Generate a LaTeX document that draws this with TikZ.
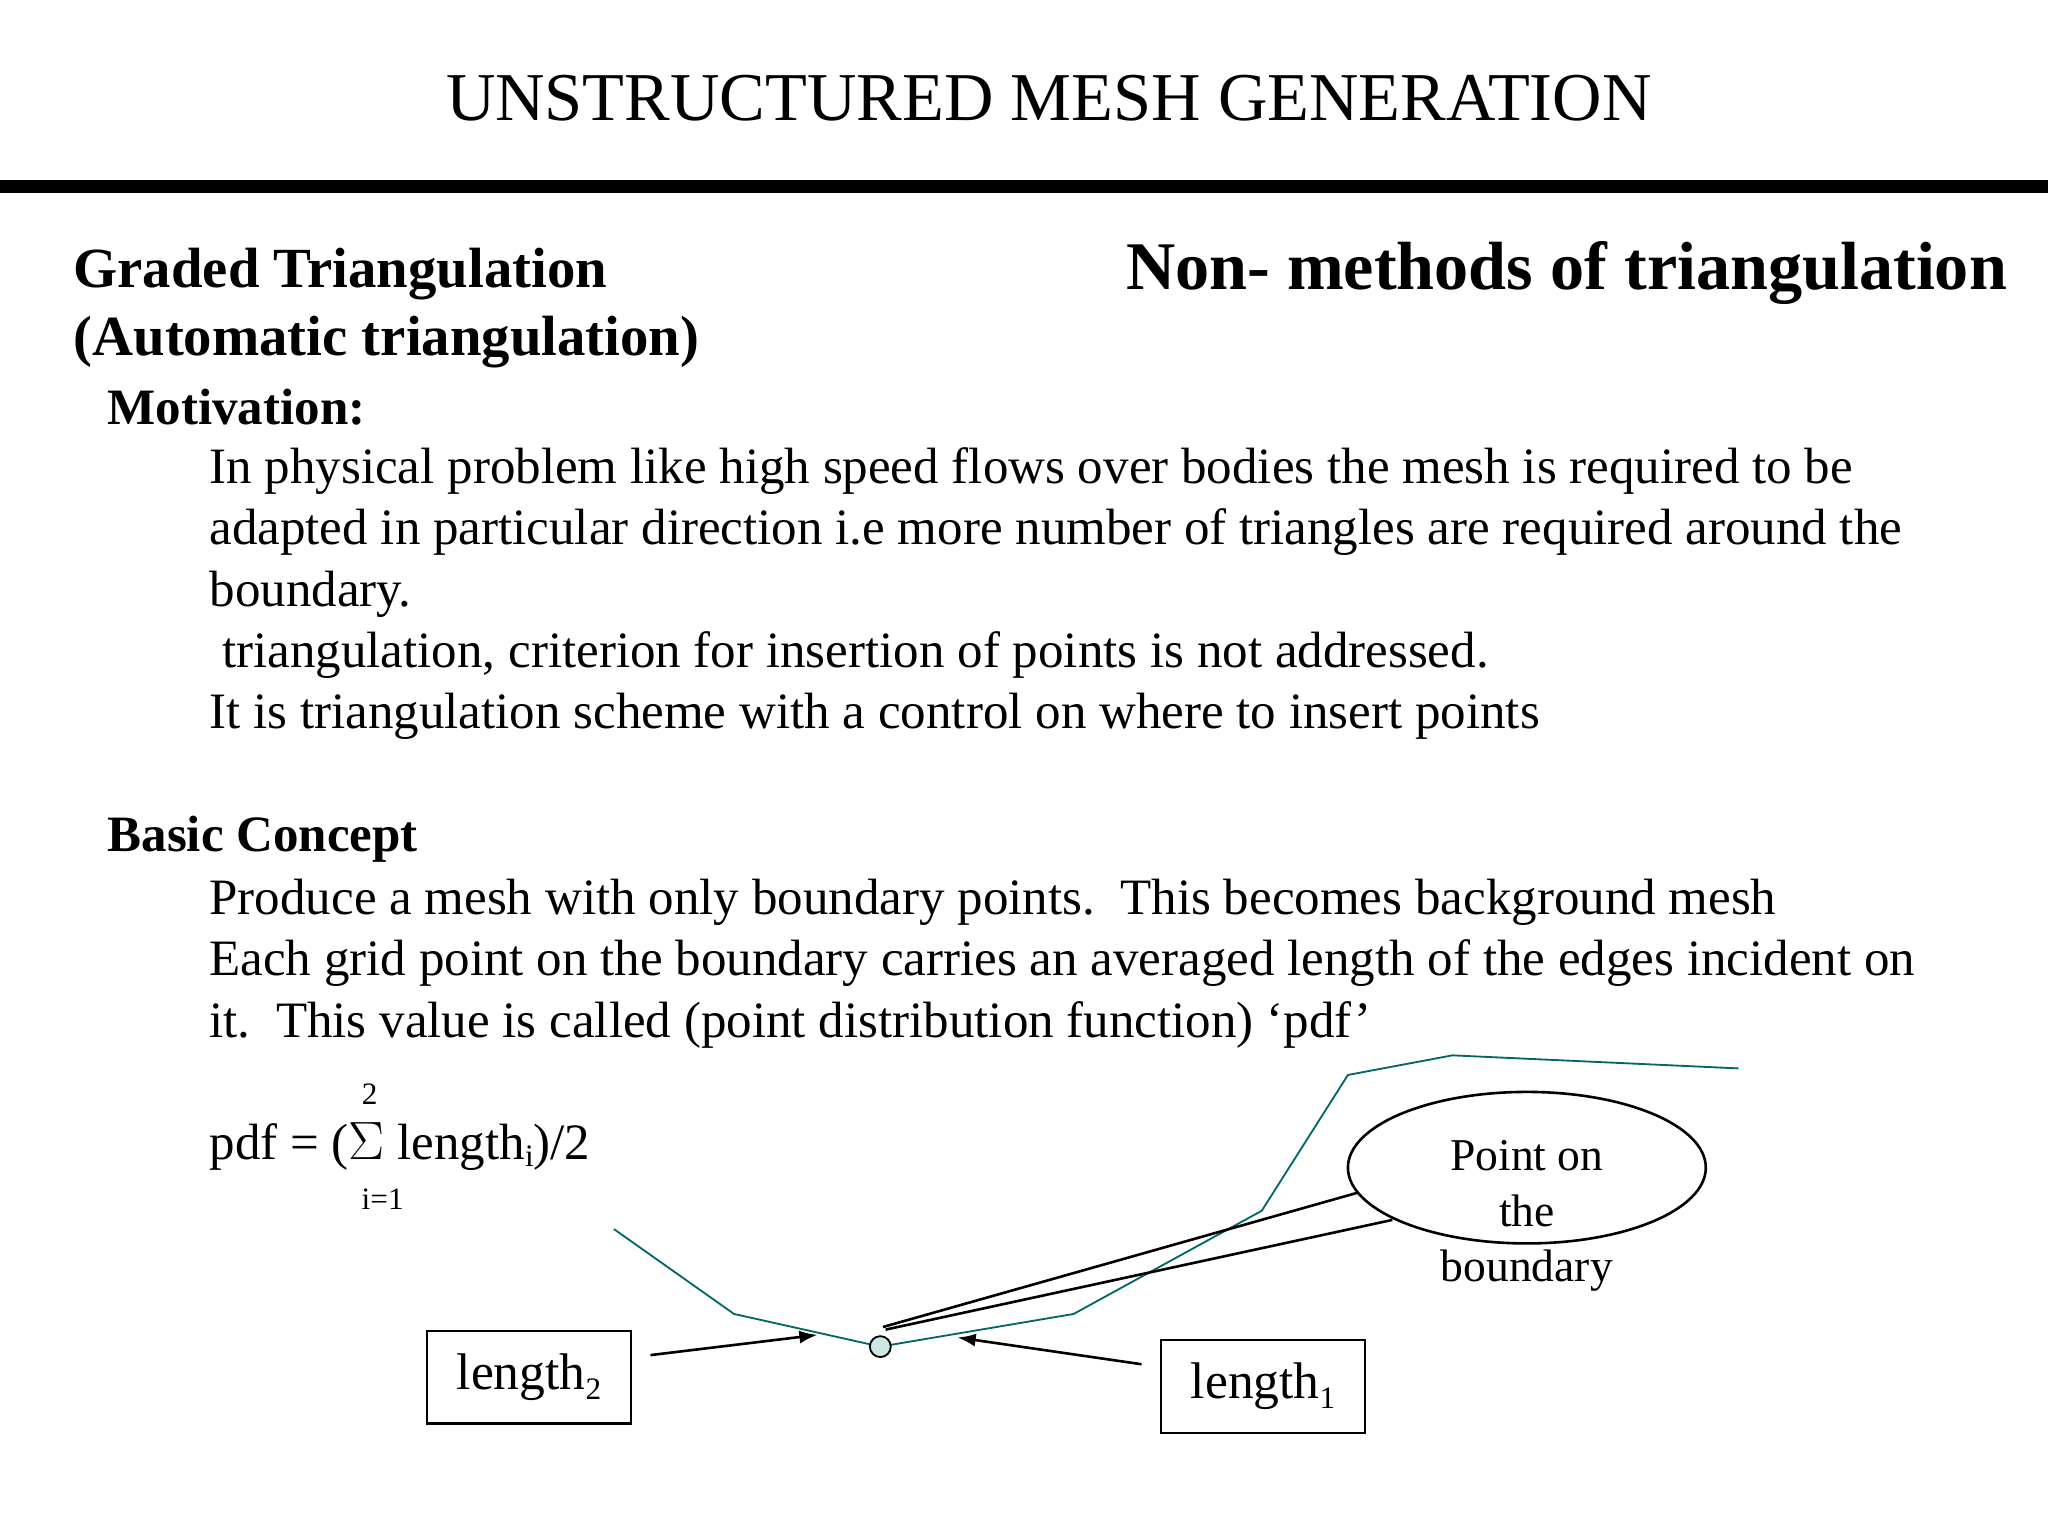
\documentclass[tikz,border=0pt]{standalone}
\usepackage{fontspec}
\setmainfont{Liberation Serif}
\usetikzlibrary{shapes.geometric,arrows.meta}
\begin{document}
\begin{tikzpicture}[x=0.5bp,y=-0.5bp,
  body/.style={anchor=base west,inner sep=0pt,font=\fontsize{19.6}{22}\selectfont},
  hb/.style={anchor=base west,inner sep=0pt,font=\fontsize{21.8}{24}\selectfont\bfseries},
  hs/.style={anchor=base west,inner sep=0pt,font=\fontsize{19.6}{22}\selectfont\bfseries},
  lbox/.style={draw,line width=1pt,minimum width=78bp,minimum height=35.5bp,inner sep=0pt,font=\fontsize{19.8}{22}\selectfont},
  teal/.style={draw=teal!80!black,line width=0.7pt},
  arr/.style={-{Latex[length=7bp,width=5bp]},line width=1pt}]
\useasboundingbox (0,0) rectangle (1568,1176);
\node[inner sep=0pt,font=\fontsize{26.3}{30}\selectfont] (title) at (803,75) {UNSTRUCTURED MESH GENERATION};
\fill (0,138) rectangle (1568,148);
\node[hb] (g1) at (56,220) {Graded Triangulation};
\node[hb] (g2) at (56,272) {(Automatic triangulation)};
\node[anchor=base east,inner sep=0pt,font=\fontsize{26.2}{28}\selectfont\bfseries] (nm) at (1537,222) {Non- methods of triangulation};
\node[hs] (mot) at (82,325) {Motivation:};
\node[body] (l1) at (160,370) {In physical problem like high speed flows over bodies the mesh is required to be};
\node[body] (l2) at (160,417) {adapted in particular direction i.e more number of triangles are required around the};
\node[body] (l3) at (160,464) {boundary.};
\node[body] (l4) at (160,511) {\ triangulation, criterion for insertion of points is not addressed.};
\node[body] (l5) at (160,558) {It is triangulation scheme with a control on where to insert points};
\node[hs] (bc) at (82,652) {Basic Concept};
\node[body] (b1) at (160,700) {Produce a mesh with only boundary points.\ \ This becomes background mesh};
\node[body] (b2) at (160,747) {Each grid point on the boundary carries an averaged length of the edges incident on};
\node[body] (b3) at (160,794) {it.\ \ This value is called (point distribution function) ‘pdf’};
\node[body] (pdf) at (160,888) {pdf = ($\Sigma$ length\raisebox{-0.3ex}{\fontsize{12}{13}\selectfont i})/2};
\node[inner sep=0pt,font=\fontsize{12}{13}\selectfont] (up) at (283,838) {2};
\node[inner sep=0pt,font=\fontsize{12}{13}\selectfont] (lo) at (293,918) {i=1};
\draw[teal] (470,941) -- (562,1006) -- (674,1031) -- (822,1006) -- (966,927) -- (1032,823) -- (1112,808) -- (1331,818);
\node[draw,fill=teal!20,circle,minimum size=8bp,inner sep=0pt,line width=0.7pt] (pt) at (674,1031) {};
\node[draw,ellipse,minimum width=137bp,minimum height=58bp,line width=1pt] (ell) at (1169,894) {};
\coordinate (c1) at (1040,913);
\coordinate (c2) at (1066,934);
\draw[line width=1pt] (676,1016) -- (c1);
\draw[line width=1pt] (678,1018) -- (c2);
\node[fill=white,inner sep=1pt,font=\fontsize{17.5}{20}\selectfont] (pob1) at (1169,885) {Point on};
\node[inner sep=0pt,font=\fontsize{17.5}{20}\selectfont] (pob2) at (1169,927) {the};
\node[inner sep=0pt,font=\fontsize{17.5}{20}\selectfont] (pob3) at (1169,973) {boundary};
\node[lbox] (len2) at (405,1054.5) {length\raisebox{-0.4ex}{\fontsize{12}{13}\selectfont 2}};
\node[lbox] (len1) at (967,1061.5) {length\raisebox{-0.4ex}{\fontsize{12}{13}\selectfont 1}};
\draw[arr] (len2.east) ++(14,-17) -- (626,1022);
\draw[arr] (len1.west) ++(-14,-17) -- (733,1024);
\end{tikzpicture}
\end{document}
